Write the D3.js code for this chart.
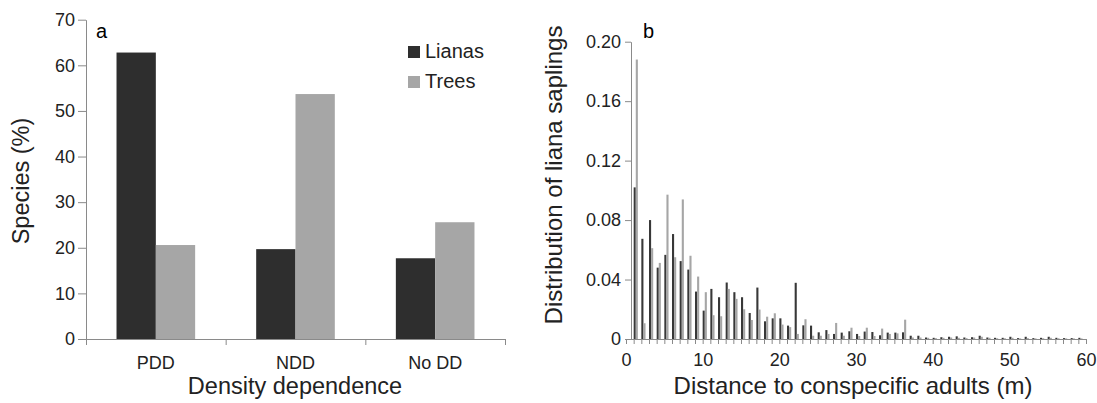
<!DOCTYPE html>
<html>
<head>
<meta charset="utf-8">
<script src="https://cdn.jsdelivr.net/npm/d3@7"></script>
<style>
  body { margin: 0; background: #fff; }
  svg { display: block; font-family: "Liberation Sans", Arial, sans-serif; }
  .axis path, .axis line { stroke: #8a8a8a; }
  .axis text { fill: #222; }
</style>
</head>
<body>
<div id="chart"></div>
<script>
// panel a: share of species by density dependence
var categories = ["PDD", "NDD", "No DD"];
var seriesNames = ["Lianas", "Trees"];
var lianasPct = [62.8, 19.7, 17.7];
var treesPct = [20.6, 53.7, 25.6];
var yTicksA = [0, 10, 20, 30, 40, 50, 60, 70];

// panel b: distribution of liana saplings by distance (bins 1..59 m)
var distances = d3.range(1, 60);
var lianaDist = [0.102, 0.0674, 0.080, 0.048, 0.0566, 0.0706, 0.0524, 0.0467, 0.0319, 0.0191,
  0.0337, 0.0281, 0.038, 0.0315, 0.0281, 0.0175, 0.0346, 0.0119, 0.0139, 0.0139,
  0.009, 0.0378, 0.0092, 0.009, 0.0045, 0.006, 0.0034, 0.0043, 0.0052, 0.0034,
  0.005, 0.0047, 0.0025, 0.0043, 0.0043, 0.0045, 0.0022, 0.0022, 0.001, 0.0008,
  0.0012, 0.0015, 0.0018, 0.001, 0.0012, 0.0022, 0.001, 0.0008, 0.0008, 0.0015,
  0.0006, 0.0015, 0.0006, 0.0008, 0.0015, 0.0008, 0.0006, 0.0006, 0.0008];
var treeDist = [0.188, 0.0106, 0.0611, 0.0512, 0.0971, 0.055, 0.0939, 0.056, 0.042, 0.0315,
  0.016, 0.0153, 0.0337, 0.027, 0.02, 0.0128, 0.0198, 0.015, 0.0173, 0.0097,
  0.008, 0.0034, 0.0133, 0.0022, 0.0022, 0.0034, 0.0108, 0.0022, 0.0076, 0.002,
  0.0076, 0.002, 0.007, 0.0034, 0.0038, 0.013, 0.001, 0.001, 0.0008, 0.0006,
  0.0008, 0.001, 0.0008, 0.0006, 0.001, 0.0015, 0.0008, 0.0005, 0.0005, 0.0008,
  0.0004, 0.0006, 0.0004, 0.0005, 0.0008, 0.0005, 0.0004, 0.0004, 0.0004];
var yTicksB = [0, 0.04, 0.08, 0.12, 0.16, 0.20];
var xTicksB = [0, 10, 20, 30, 40, 50, 60];

var colors = { Lianas: "#2e2e2e", Trees: "#a6a6a6" };

var svg = d3.select("#chart").append("svg")
    .attr("width", 1097)
    .attr("height", 403);

/* ---------- panel a ---------- */
var xA = d3.scaleBand().domain(categories).range([86, 505])
    .paddingInner(0.437).paddingOuter(0.2185);
var xSub = d3.scaleBand().domain(seriesNames).range([0, xA.bandwidth()]);
var yA = d3.scaleLinear().domain([0, 70]).range([339, 19.7]);
var xSep = d3.scaleLinear().domain([0, 3]).range([86, 505]);

var rowsA = categories.map(function(c, i) {
  return { cat: c, Lianas: lianasPct[i], Trees: treesPct[i] };
});

var groups = svg.selectAll(".grp")
    .data(rowsA)
    .enter().append("g")
    .attr("class", "grp")
    .attr("transform", d => `translate(${xA(d.cat)},0)`);

groups.selectAll("rect")
    .data(d => seriesNames.map(s => ({ s: s, v: d[s] })))
    .enter().append("rect")
    .attr("x", d => xSub(d.s))
    .attr("y", d => yA(d.v))
    .attr("width", xSub.bandwidth())
    .attr("height", d => yA(0) - yA(d.v))
    .style("fill", d => colors[d.s]);

// y axis
svg.append("g")
    .attr("class", "axis")
    .attr("transform", "translate(86,0)")
    .call(d3.axisLeft(yA).tickValues(yTicksA).tickSize(8).tickPadding(3).tickSizeOuter(0))
    .selectAll("text").style("font-size", "18px");

// x axis: separator ticks + centred labels
svg.append("g")
    .attr("class", "axis")
    .attr("transform", "translate(0,339)")
    .call(d3.axisBottom(xSep).tickValues([0, 1, 2, 3]).tickSize(6).tickFormat("").tickSizeOuter(0));

svg.append("g")
    .attr("class", "axis")
    .attr("transform", "translate(0,339)")
    .call(d3.axisBottom(xA).tickSize(0).tickPadding(17))
    .call(g => g.select(".domain").remove())
    .selectAll("text").style("font-size", "18px");

svg.append("text")
    .attr("x", 96).attr("y", 38)
    .style("font-size", "20px")
    .text("a");

svg.append("text")
    .attr("transform", "translate(29,181) rotate(-90)")
    .attr("text-anchor", "middle")
    .style("font-size", "23.5px")
    .style("fill", "#222")
    .text("Species (%)");

svg.append("text")
    .attr("x", 295).attr("y", 394)
    .attr("text-anchor", "middle")
    .style("font-size", "23.5px")
    .style("fill", "#222")
    .text("Density dependence");

// legend
var legend = svg.selectAll(".leg")
    .data(seriesNames)
    .enter().append("g")
    .attr("class", "leg")
    .attr("transform", (d, i) => `translate(408,${46 + i * 30})`);
legend.append("rect")
    .attr("width", 12).attr("height", 12)
    .style("fill", d => colors[d]);
legend.append("text")
    .attr("x", 17).attr("y", 12)
    .style("font-size", "20px")
    .style("fill", "#222")
    .text(d => d);

/* ---------- panel b ---------- */
var xB = d3.scaleLinear().domain([0, 60]).range([626, 1086]);
var yB = d3.scaleLinear().domain([0, 0.2]).range([339, 41.7]);
var barW = 2.1;

svg.append("g").selectAll("rect")
    .data(distances.map((d, i) => ({ d: d, v: lianaDist[i] })))
    .enter().append("rect")
    .attr("x", d => xB(d.d))
    .attr("y", d => yB(d.v))
    .attr("width", barW)
    .attr("height", d => yB(0) - yB(d.v))
    .style("fill", "#383838");

svg.append("g").selectAll("rect")
    .data(distances.map((d, i) => ({ d: d, v: treeDist[i] })))
    .enter().append("rect")
    .attr("x", d => xB(d.d) + barW)
    .attr("y", d => yB(d.v))
    .attr("width", barW)
    .attr("height", d => yB(0) - yB(d.v))
    .style("fill", colors.Trees);

// x axis: a tick every metre, labels every 10
svg.append("g")
    .attr("class", "axis")
    .attr("transform", "translate(0,339)")
    .call(d3.axisBottom(xB).tickValues(d3.range(0, 61)).tickSize(5).tickFormat("").tickSizeOuter(0));

svg.append("g")
    .attr("class", "axis")
    .attr("transform", "translate(0,339)")
    .call(d3.axisBottom(xB).tickValues(xTicksB).tickSize(0).tickPadding(14).tickFormat(d3.format("d")))
    .call(g => g.select(".domain").remove())
    .selectAll("text").style("font-size", "18px");

// y axis sits slightly right of x = 0
svg.append("g")
    .attr("class", "axis")
    .attr("transform", "translate(631,0)")
    .call(d3.axisLeft(yB).tickValues(yTicksB).tickSize(6).tickPadding(4).tickSizeOuter(0)
      .tickFormat(d => d === 0 ? "0" : d3.format(".2f")(d)))
    .selectAll("text").style("font-size", "18px");

svg.append("text")
    .attr("x", 643).attr("y", 38)
    .style("font-size", "20px")
    .text("b");

svg.append("text")
    .attr("transform", "translate(562,175) rotate(-90)")
    .attr("text-anchor", "middle")
    .style("font-size", "24px")
    .style("fill", "#222")
    .text("Distribution of liana saplings");

svg.append("text")
    .attr("x", 853).attr("y", 394)
    .attr("text-anchor", "middle")
    .style("font-size", "24px")
    .style("fill", "#222")
    .text("Distance to conspecific adults (m)");
</script>
</body>
</html>
